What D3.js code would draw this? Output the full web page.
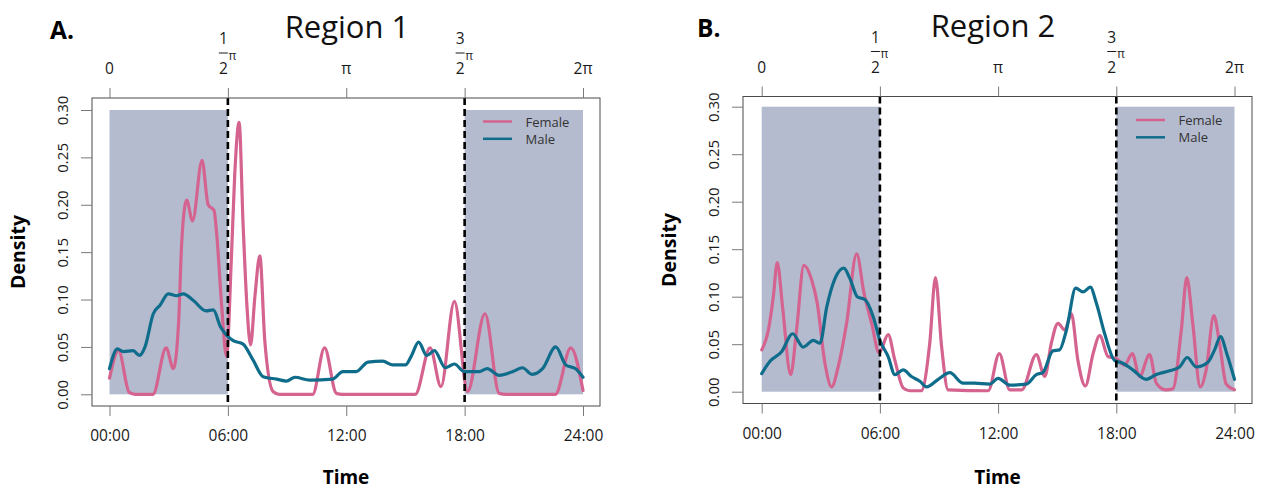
<!DOCTYPE html>
<html>
<head>
<meta charset="utf-8">
<script src="https://cdn.jsdelivr.net/npm/d3@7"></script>
<style>
  html, body { margin: 0; padding: 0; background: #ffffff; }
  svg { display: block; font-family: "Open Sans", "Noto Sans", sans-serif; }
</style>
</head>
<body>
<svg id="chart" width="1263" height="490"></svg>
<script>
// ---------------- DATA ----------------
const panelLetters = ["A.", "B."];
const panelTitles = ["Region 1", "Region 2"];
const seriesNames = ["Female", "Male"];
const seriesColors = ["#d4638f", "#0f6d8b"];
const bottomTicks = [0, 6, 12, 18, 24];
const bottomTickLabels = ["00:00", "06:00", "12:00", "18:00", "24:00"];
const topTickLabels = ["0", "1/2", "π", "3/2", "2π"];
const yTicks = [0, 0.05, 0.10, 0.15, 0.20, 0.25, 0.30];
const nightSpans = [[0, 6], [18, 24]];
const dashedHours = [6, 18];

// Region 1 — [hour, density]
const femaleRegion1 = [
  [0, 0.017], [0.46, 0.046], [1.0, 0.002], [1.3, 0], [2.2, 0], [2.87, 0.049],
  [3.24, 0.027], [3.5, 0.075], [3.66, 0.16], [3.91, 0.205], [4.21, 0.183],
  [4.69, 0.247], [5.0, 0.2], [5.3, 0.194], [5.43, 0.17], [5.69, 0.092],
  [5.93, 0.04], [6.18, 0.145], [6.35, 0.233], [6.57, 0.287], [6.77, 0.18],
  [6.97, 0.092], [7.15, 0.052], [7.37, 0.103], [7.62, 0.146], [7.87, 0.057],
  [8.29, 0.003], [8.6, 0], [10.3, 0], [10.9, 0.049], [11.5, 0.001], [11.8, 0],
  [15.5, 0], [16.25, 0.049], [16.8, 0.008], [17.48, 0.098], [18.15, 0.003],
  [19.03, 0.085], [19.75, 0.001], [20.1, 0], [22.6, 0], [23.38, 0.049], [24, 0.004]
];
const maleRegion1 = [
  [0, 0.027], [0.4, 0.048], [0.7, 0.045], [1.2, 0.046], [1.52, 0.041], [1.8, 0.05],
  [2.22, 0.085], [2.56, 0.094], [2.98, 0.106], [3.4, 0.104], [3.74, 0.106],
  [4.25, 0.099], [4.89, 0.088], [5.26, 0.089], [5.63, 0.071], [5.93, 0.0625],
  [6.27, 0.0566], [6.77, 0.053], [7.28, 0.036], [7.79, 0.0186], [8.46, 0.016],
  [8.97, 0.014], [9.4, 0.018], [10.15, 0.015], [11.3, 0.016], [11.83, 0.024],
  [12.5, 0.024], [13.1, 0.034], [13.85, 0.035], [14.36, 0.031], [15.0, 0.031],
  [15.29, 0.04], [15.67, 0.055], [16.08, 0.041], [16.47, 0.046], [17.02, 0.028],
  [17.48, 0.032], [17.98, 0.024], [18.74, 0.024], [19.14, 0.027], [19.75, 0.02],
  [20.45, 0.024], [20.93, 0.028], [21.43, 0.021], [21.95, 0.027], [22.62, 0.05],
  [23.13, 0.031], [23.63, 0.027], [24, 0.018]
];

// Region 2 — [hour, density]
const femaleRegion2 = [
  [0, 0.044], [0.34, 0.065], [0.59, 0.1], [0.79, 0.136], [1.06, 0.089], [1.47, 0.018],
  [1.77, 0.065], [2.14, 0.133], [2.53, 0.118], [2.82, 0.093], [3.21, 0.03],
  [3.55, 0.005], [3.88, 0.026], [4.31, 0.072], [4.82, 0.145], [5.19, 0.104],
  [5.58, 0.072], [5.96, 0.041], [6.42, 0.06], [6.76, 0.033], [7.18, 0.004],
  [7.5, 0.001], [8.1, 0.001], [8.53, 0.051], [8.82, 0.12], [9.13, 0.048],
  [9.46, 0.002], [11.5, 0.001], [12.06, 0.04], [12.59, 0.002], [13.2, 0.002],
  [13.94, 0.039], [14.37, 0.016], [14.7, 0.051], [15.04, 0.072], [15.38, 0.065],
  [15.72, 0.082], [16.05, 0.033], [16.43, 0.006], [16.82, 0.04], [17.16, 0.059],
  [17.58, 0.037], [18.0, 0.035], [18.42, 0.028], [18.81, 0.04], [19.18, 0.016],
  [19.69, 0.039], [20.03, 0.009], [20.5, 0.002], [20.87, 0.003], [21.3, 0.065],
  [21.58, 0.12], [21.88, 0.072], [22.26, 0.005], [22.56, 0.023], [22.95, 0.08],
  [23.24, 0.051], [23.58, 0.008], [24, 0.002]
];
const maleRegion2 = [
  [0, 0.019], [0.42, 0.032], [1.01, 0.042], [1.57, 0.061], [2.11, 0.047],
  [2.62, 0.054], [2.96, 0.051], [3.3, 0.089], [3.72, 0.119], [4.17, 0.13],
  [4.48, 0.119], [4.85, 0.1], [5.24, 0.097], [5.66, 0.079], [6.0, 0.054],
  [6.42, 0.037], [6.76, 0.018], [7.18, 0.023], [7.6, 0.016], [8.03, 0.011],
  [8.37, 0.005], [8.96, 0.013], [9.55, 0.02], [10.22, 0.009], [10.8, 0.009],
  [11.58, 0.008], [12.0, 0.014], [12.59, 0.007], [13.43, 0.008], [13.94, 0.018],
  [14.27, 0.02], [14.78, 0.043], [15.12, 0.044], [15.47, 0.065], [15.94, 0.109],
  [16.31, 0.105], [16.68, 0.11], [16.99, 0.093], [17.41, 0.061], [17.91, 0.033],
  [18.33, 0.03], [18.84, 0.023], [19.52, 0.013], [20.03, 0.018], [20.7, 0.022],
  [21.21, 0.026], [21.6, 0.036], [22.06, 0.026], [22.65, 0.031], [22.99, 0.044],
  [23.29, 0.058], [23.61, 0.04], [24, 0.013]
];

// ---------------- LAYOUT ----------------
const panels = [
  { letter: panelLetters[0], title: panelTitles[0], series: [femaleRegion1, maleRegion1],
    box: { l: 92, r: 600, t: 98, b: 406 }, xr: [109.5, 583], yr: [394.3, 110],
    titleX: 347, letterX: 50, legendX: 483 },
  { letter: panelLetters[1], title: panelTitles[1], series: [femaleRegion2, maleRegion2],
    box: { l: 743, r: 1252, t: 96.5, b: 403.5 }, xr: [761.7, 1234.5], yr: [391.7, 106.7],
    titleX: 993, letterX: 697, legendX: 1136 }
];

const svg = d3.select("#chart");
const tickCol = "#7a7a7a", boxCol = "#4a4a4a", textCol = "#1a1a1a";

panels.forEach(p => {
  const x = d3.scaleLinear().domain([0, 24]).range(p.xr);
  const y = d3.scaleLinear().domain([0, 0.30]).range(p.yr);
  const g = svg.append("g");

  // night shading
  nightSpans.forEach(s => {
    g.append("rect")
      .attr("x", x(s[0])).attr("y", y(0.30))
      .attr("width", x(s[1]) - x(s[0])).attr("height", y(0) - y(0.30))
      .attr("fill", "#b4bbcf");
  });

  // density lines
  const line = d3.line().x(d => x(d[0])).y(d => y(d[1])).curve(d3.curveMonotoneX);
  p.series.forEach((s, i) => {
    g.append("path").datum(s).attr("d", line)
      .attr("fill", "none").attr("stroke", seriesColors[i])
      .attr("stroke-width", 3.2).attr("stroke-linejoin", "round").attr("stroke-linecap", "round");
  });

  // dashed lines
  dashedHours.forEach(h => {
    g.append("line").attr("x1", x(h)).attr("x2", x(h))
      .attr("y1", p.box.t).attr("y2", p.box.b)
      .attr("stroke", "#000").attr("stroke-width", 2.6).attr("stroke-dasharray", "7,4");
  });

  // box
  g.append("rect").attr("x", p.box.l).attr("y", p.box.t)
    .attr("width", p.box.r - p.box.l).attr("height", p.box.b - p.box.t)
    .attr("fill", "none").attr("stroke", boxCol).attr("stroke-width", 1);

  // bottom axis
  const bAxis = d3.axisBottom(x).tickValues(bottomTicks).tickSize(10).tickPadding(14)
    .tickFormat((d, i) => bottomTickLabels[i]);
  const bg = g.append("g").attr("transform", `translate(0,${p.box.b})`).call(bAxis);
  bg.select(".domain").remove();
  bg.selectAll(".tick line").attr("stroke", tickCol);
  bg.selectAll(".tick text").attr("fill", textCol).style("font-size", "15.5px")
    .style("font-family", "'Open Sans', sans-serif");

  // left axis (rotated labels)
  const lAxis = d3.axisLeft(y).tickValues(yTicks).tickSize(11).tickFormat(d3.format(".2f"));
  const lg = g.append("g").attr("transform", `translate(${p.box.l},0)`).call(lAxis);
  lg.select(".domain").remove();
  lg.selectAll(".tick line").attr("stroke", tickCol);
  lg.selectAll(".tick text").attr("fill", textCol).style("font-size", "15px")
    .style("font-family", "'Open Sans', sans-serif")
    .attr("x", null).attr("dy", null)
    .attr("transform", "translate(-30,0) rotate(-90)")
    .attr("text-anchor", "middle").attr("dominant-baseline", "central");

  // top axis
  const tAxis = d3.axisTop(x).tickValues(bottomTicks).tickSize(10).tickFormat("");
  const tg = g.append("g").attr("transform", `translate(0,${p.box.t})`).call(tAxis);
  tg.select(".domain").remove();
  tg.selectAll(".tick line").attr("stroke", tickCol);
  const labY = p.box.t - 30;
  bottomTicks.forEach((h, i) => {
    const lbl = topTickLabels[i];
    const cx = x(h);
    if (lbl.includes("/")) {
      const [num, den] = lbl.split("/");
      g.append("text").attr("x", cx - 4.5).attr("y", labY - 30).text(num)
        .attr("text-anchor", "middle").attr("dominant-baseline", "central")
        .attr("fill", textCol).style("font-size", "15.5px");
      g.append("line").attr("x1", cx - 9).attr("x2", cx).attr("y1", labY - 15).attr("y2", labY - 15)
        .attr("stroke", textCol).attr("stroke-width", 1);
      g.append("text").attr("x", cx - 4.5).attr("y", labY).text(den)
        .attr("text-anchor", "middle").attr("dominant-baseline", "central")
        .attr("fill", textCol).style("font-size", "15.5px");
      g.append("text").attr("x", cx + 4.5).attr("y", labY - 13).text("π")
        .attr("text-anchor", "middle").attr("dominant-baseline", "central")
        .attr("fill", textCol).style("font-size", "12px");
    } else {
      g.append("text").attr("x", cx).attr("y", labY).text(lbl)
        .attr("text-anchor", "middle").attr("dominant-baseline", "central")
        .attr("fill", textCol).style("font-size", "15.5px");
    }
  });

  // axis titles
  g.append("text").attr("x", (p.box.l + p.box.r) / 2).attr("y", Math.min(p.box.b + 73, 477))
    .attr("text-anchor", "middle").attr("dominant-baseline", "central")
    .style("font-weight", "bold").style("font-size", "19px").attr("fill", "#000").text("Time");
  g.append("text").attr("transform", `translate(${p.box.l - 75},${(p.box.t + p.box.b) / 2}) rotate(-90)`)
    .attr("text-anchor", "middle").attr("dominant-baseline", "central")
    .style("font-weight", "bold").style("font-size", "19.5px").attr("fill", "#000").text("Density");

  // title and panel letter
  g.append("text").attr("x", p.titleX).attr("y", p.box.t - 72)
    .attr("text-anchor", "middle").attr("dominant-baseline", "central")
    .style("font-size", "31px").attr("fill", "#111").text(p.title);
  g.append("text").attr("x", p.letterX).attr("y", p.box.t - 69)
    .attr("dominant-baseline", "central")
    .style("font-size", "24.5px").style("font-weight", "bold").attr("fill", "#000").text(p.letter);

  // legend
  seriesNames.forEach((name, i) => {
    const ly = p.box.t + 23.5 + i * 17.3;
    g.append("line").attr("x1", p.legendX).attr("x2", p.legendX + 29)
      .attr("y1", ly).attr("y2", ly)
      .attr("stroke", seriesColors[i]).attr("stroke-width", 2.5);
    g.append("text").attr("x", p.legendX + 42.5).attr("y", ly)
      .attr("dominant-baseline", "central").style("font-size", "13px")
      .attr("fill", "#333").text(name);
  });
});
</script>
</body>
</html>
